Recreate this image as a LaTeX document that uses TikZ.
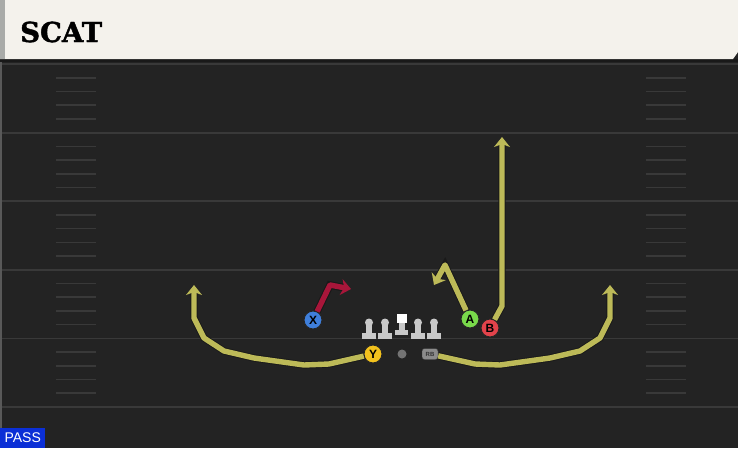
\documentclass[tikz,border=0pt]{standalone}
\usepackage{fontspec}
\newfontfamily\titlefont[BoldFeatures={FakeBold=1.6}]{DejaVu Serif}
\newfontfamily\labelfont{Liberation Sans}
\usetikzlibrary{arrows.meta,calc}
\tikzset{>=latex}
\definecolor{field}{HTML}{232323}
\definecolor{header}{HTML}{F4F2EC}
\definecolor{stripe}{HTML}{A9ABA8}
\definecolor{yardline}{HTML}{393939}
\definecolor{routeyellow}{RGB}{189,186,88}
\definecolor{routered}{HTML}{A8163A}
\definecolor{xblue}{HTML}{3F7FDB}
\definecolor{yyellow}{HTML}{F3C21D}
\definecolor{agreen}{HTML}{79D94B}
\definecolor{bred}{HTML}{E2434B}
\definecolor{passblue}{HTML}{0B2FD6}
\definecolor{linegray}{HTML}{C9C9C9}
\tikzstyle{player}=[circle,draw=black!85,line width=1pt,minimum size=18pt,inner sep=0pt,font=\labelfont\bfseries\fontsize{12}{12}\selectfont]
\tikzstyle{route}=[line width=5.4pt,draw=routeyellow,line join=round,-{Stealth[length=10pt,width=16pt,inset=3pt]},preaction={draw=black!90,line width=7.2pt,-,shorten >=7pt}]
\tikzstyle{redroute}=[route,draw=routered,preaction={draw=black!90,line width=7.2pt,-,shorten >=7pt}]
\tikzstyle{yard}=[draw=yardline,line width=1.8pt]
\tikzstyle{hash}=[draw=yardline,line width=1.6pt]
\newcommand{\lineman}[1]{%
  \fill[linegray] (#1,322.5) circle (4);
  \fill[linegray] (#1-3.4,325) rectangle (#1+3.4,333);
  \fill[linegray] (#1-7,333) rectangle (#1+7,338.5);
}

\begin{document}
\begin{tikzpicture}[x=1pt,y=-1pt]
	\useasboundingbox (0,0) rectangle (738,448);
	\fill[field] (0,0) rectangle (738,448);
	\fill[black!90] (0,59) rectangle (738,62);
	\draw[draw=black!65,line width=1.5pt] (1,62) -- (1,448);
	
	% yard lines and hash marks
	\foreach \yl in {64,132.6,201.2,269.8,338.4,407} {
		\draw[yard] (2,\yl) -- (738,\yl);
	}
	\foreach \i in {0,...,4} {
		\foreach \k in {1,...,4} {
			\draw[hash] (56,64+68.6*\i+13.72*\k) -- (96,64+68.6*\i+13.72*\k);
			\draw[hash] (646,64+68.6*\i+13.72*\k) -- (686,64+68.6*\i+13.72*\k);
		}
	}
	
	% header
	\fill[header] (0,0) -- (738,0) -- (738,52) -- (733,59) -- (0,59) -- cycle;
	\fill[stripe] (0,0) rectangle (5,59);
	\node[anchor=west,inner sep=0pt] (title) at (20,32) {\titlefont\bfseries\fontsize{27.5}{27.5}\selectfont SCAT};
	
	% offensive line
	\lineman{369}
	\lineman{385}
	\lineman{418}
	\lineman{434}
	\fill[white] (396.5,313.5) rectangle (406.5,323);
	\fill[linegray] (398.5,323) rectangle (404.5,330);
	\fill[linegray] (395,330) rectangle (408,334.5);
	
	\node[circle,fill=black!55,minimum size=9pt,inner sep=0pt] (QB) at (402,354) {};
	\node[rectangle,rounded corners=2.5pt,fill=black!45,draw=black!80,minimum width=16pt,minimum height=11pt,inner sep=0pt,font=\labelfont\bfseries\fontsize{6}{6}\selectfont,text=black!80] (RB) at (430,354) {RB};
	
	\node[player,fill=xblue] (X) at (313,320) {X};
	\node[player,fill=yyellow] (Y) at (373,354) {Y};
	\node[player,fill=agreen] (A) at (470,319) {A};
	\node[player,fill=bred] (B) at (490,328) {B};
	
	\coordinate (Xend) at (351,289);
	\coordinate (Yend) at (194,285);
	\coordinate (RBend) at (610,285);
	\coordinate (Aend) at (434,285);
	\coordinate (Bend) at (502,137);
	
	% routes
	\draw[route] (Y) -- (329,364) -- (304,365) -- (254,358) -- (224,351) -- (204,338) -- (194,318) -- (Yend);
	\draw[route] (RB) -- (475,364) -- (500,365) -- (550,358) -- (580,351) -- (600,338) -- (610,318) -- (RBend);
	\draw[route] (A) -- (445,265) -- (Aend);
	\draw[route] (B) -- (502,306) -- (Bend);
	\draw[redroute] (X) -- (330,285) -- (Xend);
	
	\node[fill=passblue,text=white,anchor=south west,minimum width=45pt,minimum height=20pt,inner sep=0pt,font=\labelfont\fontsize{14}{14}\selectfont] (pass) at (0,448) {PASS};
\end{tikzpicture}
\end{document}
